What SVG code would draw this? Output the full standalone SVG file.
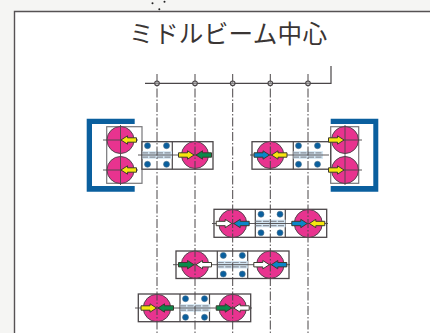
<svg xmlns="http://www.w3.org/2000/svg" width="430" height="333" viewBox="0 0 430 333">
<style>
.title{font-family:"Noto Sans CJK JP","Noto Sans",sans-serif;font-size:24.6px;font-weight:400;fill:#3a3534}
.frame{fill:none;stroke:#565254;stroke-width:1.4}
.axis{fill:none;stroke:#4a4648;stroke-width:1.2}
.cl{fill:none;stroke:#4a4648;stroke-width:1;stroke-dasharray:9 2 1.5 2}
.tick{fill:none;stroke:#4a4648;stroke-width:.9}
.div{fill:none;stroke:#4a4648;stroke-width:1.2}
.mk{fill:#c8c8c8;fill-opacity:.5;stroke:#4a4648;stroke-width:1.1}
.box{fill:#fff;stroke:#4a4648;stroke-width:1.3}
.cast{fill:#fff;stroke:#77777a;stroke-width:1.2}
.steel{fill:#0a5f9e;stroke:none}
.seam{fill:none;stroke:#4a6f8a;stroke-width:.7}
.pink{fill:#e8338f;stroke:#55454f;stroke-width:1}
.bolt{fill:#0a5f9e;stroke:#4a6f8a;stroke-width:.6}
.band{fill:#d3e5f2}
.dash{fill:none;stroke:#8a9099;stroke-width:1.2;stroke-dasharray:6 1.5}
.y{fill:#f6e60e}.b{fill:#0a86c8}.g{fill:#0a8a4a}.w{fill:#fff}
.ar{stroke:#3e3a30;stroke-width:1}
</style>
<defs>
<path id="arrow" d="M0 0L-6.5 -4.2V-2.2H-15.5V2.2H-6.5V4.2Z"/>
<g id="plate">
<rect class="band" x="0.5" y="-3.8" width="29.5" height="7.6"/>
<path class="dash" d="M0 -2.2H30M0 2.2H30"/>
<circle class="bolt" cx="5.5" cy="-9.3" r="3"/><circle class="bolt" cx="24.5" cy="-9.3" r="3"/>
<circle class="bolt" cx="5.5" cy="9.3" r="3"/><circle class="bolt" cx="24.5" cy="9.3" r="3"/>
</g>
</defs>
<rect width="430" height="333" fill="#f5f5f3"/>
<rect x="14.5" y="11.5" width="416" height="322" fill="#fff"/>
<path class="frame" d="M14.5 333V11.5H430"/>
<g id="dots" fill="#222"><circle cx="152.5" cy="3.3" r="1"/><circle cx="164.5" cy="1.7" r="1"/><circle cx="159.3" cy="9.2" r="1"/></g>
<text class="title" x="129" y="43" textLength="198">ミドルビーム中心</text>

<g id="node-left">
<path class="steel" d="M86.7 118.7H134.7V124H92V186H134.7V191.7H86.7Z"/>
<rect class="cast" x="106.7" y="126.7" width="35.3" height="56.6"/>
<rect class="box" x="142" y="141.7" width="71" height="27.5"/>
<path class="div" d="M172.3 141.7V169.2"/>
<use href="#plate" x="142" y="155"/>
<circle class="pink" cx="120.5" cy="140" r="13.5"/><circle class="pink" cx="120.5" cy="170" r="13.5"/><circle class="pink" cx="195" cy="155" r="13.5"/>
<path class="tick" d="M103 140H138M103 170H138M120.5 125V185M138 155H212"/>
<use href="#arrow" class="y ar" transform="translate(121 140) rotate(180)"/>
<use href="#arrow" class="y ar" transform="translate(121 170) rotate(180)"/>
<use href="#arrow" class="y ar" transform="translate(194 155)"/>
<use href="#arrow" class="g ar" transform="translate(196 155) rotate(180)"/>
</g>

<g id="node-right">
<path class="steel" d="M378.3 118.7H330.7V124H373.3V186H330.7V191.7H378.3Z"/>
<rect class="cast" x="330.7" y="126.7" width="28" height="56.6"/>
<rect class="box" x="252" y="141.7" width="78.7" height="27.5"/>
<path class="div" d="M293.3 141.7V169.2"/>
<use href="#plate" x="293" y="155"/>
<circle class="pink" cx="345" cy="140" r="13.5"/><circle class="pink" cx="345" cy="170" r="13.5"/><circle class="pink" cx="270.3" cy="155" r="13.5"/>
<path class="tick" d="M328 140H362M328 170H362M345 125V185M250 155H329"/>
<use href="#arrow" class="y ar" transform="translate(344 140)"/>
<use href="#arrow" class="y ar" transform="translate(344 170)"/>
<use href="#arrow" class="b ar" transform="translate(269.5 155)"/>
<use href="#arrow" class="y ar" transform="translate(271.5 155) rotate(180)"/>
</g>

<g id="node-row3">
<rect class="box" x="214" y="209.3" width="112.7" height="28"/>
<path class="div" d="M255.3 209.3V237.3M285.3 209.3V237.3"/>
<use href="#plate" x="255.5" y="223.5"/>
<circle class="pink" cx="232.7" cy="223.5" r="14"/><circle class="pink" cx="308.3" cy="223.5" r="14"/>
<path class="tick" d="M212 223.5H328"/>
<use href="#arrow" class="w ar" transform="translate(231.7 223.5)"/>
<use href="#arrow" class="b ar" transform="translate(233.7 223.5) rotate(180)"/>
<use href="#arrow" class="b ar" transform="translate(307.3 223.5)"/>
<use href="#arrow" class="y ar" transform="translate(309.3 223.5) rotate(180)"/>
</g>

<g id="node-row4">
<rect class="box" x="176" y="251" width="113" height="27.5"/>
<path class="div" d="M217.3 251V278.5M247.7 251V278.5"/>
<use href="#plate" x="217.8" y="264.7"/>
<circle class="pink" cx="195" cy="264.7" r="13.7"/><circle class="pink" cx="270.3" cy="264.7" r="13.7"/>
<path class="tick" d="M173 264.7H290"/>
<use href="#arrow" class="g ar" transform="translate(194 264.7)"/>
<use href="#arrow" class="w ar" transform="translate(196 264.7) rotate(180)"/>
<use href="#arrow" class="w ar" transform="translate(269.3 264.7)"/>
<use href="#arrow" class="b ar" transform="translate(271.3 264.7) rotate(180)"/>
</g>

<g id="node-row5">
<rect class="box" x="138.3" y="294" width="112.4" height="27.7"/>
<path class="div" d="M180 294V321.7M209.5 294V321.7"/>
<use href="#plate" x="180" y="308"/>
<circle class="pink" cx="157" cy="308" r="13.7"/><circle class="pink" cx="232.7" cy="308" r="13.7"/>
<path class="tick" d="M135 308H252"/>
<use href="#arrow" class="y ar" transform="translate(156.5 308)"/>
<use href="#arrow" class="g ar" transform="translate(158 308) rotate(180)"/>
<use href="#arrow" class="g ar" transform="translate(231.7 308)"/>
<use href="#arrow" class="w ar" transform="translate(233.7 308) rotate(180)"/>
</g>

<g id="connectors">
<path class="axis" d="M145 83.3H331V66"/>
<path class="cl" d="M157 74V333M195 74V333M232.7 74V333M270.3 74V333M308 74V333"/>
<g class="mk"><circle cx="157" cy="83.3" r="2.3"/><circle cx="195" cy="83.3" r="2.3"/><circle cx="232.7" cy="83.3" r="2.3"/><circle cx="270.3" cy="83.3" r="2.3"/><circle cx="308" cy="83.3" r="2.3"/></g>
</g>
</svg>
